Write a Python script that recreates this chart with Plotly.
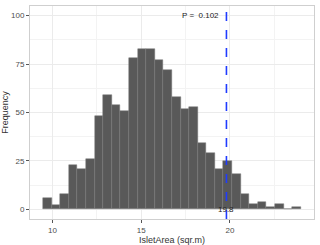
import numpy as np
import plotly.graph_objects as go

# Histogram data (30 bins)
bin_start = 9.47
bin_width = 0.484
counts = [6, 2, 8, 23, 21, 26, 48, 59, 54, 51, 78, 83, 83, 77, 72,
          58, 52, 53, 34, 29, 21, 25, 18, 8, 3, 4, 1, 3, 0, 1]
line_x = 19.8
p_label = "P =  0.102"
x_ticks = [10, 15, 20]
y_ticks = [0, 25, 50, 75, 100]

centers = bin_start + bin_width * (np.arange(len(counts)) + 0.5)

fig = go.Figure()
fig.add_trace(go.Bar(
    x=centers, y=counts, width=bin_width,
    marker=dict(color="#595959", line=dict(color="#7a7a7a", width=0.5)),
    showlegend=False, hoverinfo="x+y",
))

fig.add_shape(type="line", x0=line_x, x1=line_x, xref="x", y0=0, y1=1, yref="paper",
              line=dict(color="#1f3bff", width=1.6, dash="dash"))

fig.add_annotation(x=line_x, y=0, text=f"{line_x}", showarrow=False,
                   font=dict(size=8, color="#222222"), xanchor="center", yanchor="middle")
fig.add_annotation(x=19.5, y=100, text=p_label, showarrow=False,
                   font=dict(size=8, color="#222222"), xanchor="right", yanchor="middle")

axis_common = dict(
    showgrid=True, gridcolor="#ebebeb", gridwidth=0.8,
    zeroline=False, showline=True, mirror=True, linecolor="#cfcfcf", linewidth=1,
    ticks="outside", ticklen=3, tickcolor="#555555", tickwidth=0.8,
    tickfont=dict(size=8, color="#4d4d4d"), automargin=False,
)

fig.update_xaxes(range=[8.74, 24.73], tickvals=x_ticks,
                 minor=dict(tickvals=[12.5, 17.5, 22.5], showgrid=True, gridcolor="#f3f3f3", gridwidth=0.5, ticks=""),
                 title=dict(text="IsletArea (sqr.m)", font=dict(size=9, color="#333333"), standoff=0),
                 **axis_common)
fig.update_yaxes(range=[-5, 105], tickvals=y_ticks,
                 minor=dict(tickvals=[12.5, 37.5, 62.5, 87.5], showgrid=True, gridcolor="#f3f3f3", gridwidth=0.5, ticks=""),
                 title=dict(text="Frequency", font=dict(size=9, color="#333333"), standoff=0),
                 **axis_common)

fig.update_layout(
    width=320, height=245,
    margin=dict(l=30, r=6, t=6, b=26),
    plot_bgcolor="white", paper_bgcolor="white",
    font=dict(family="Liberation Sans, Arial, sans-serif"),
    bargap=0,
)

fig.write_html("out.html", config={"displayModeBar": False},
               post_script="document.body.style.margin='0';")
